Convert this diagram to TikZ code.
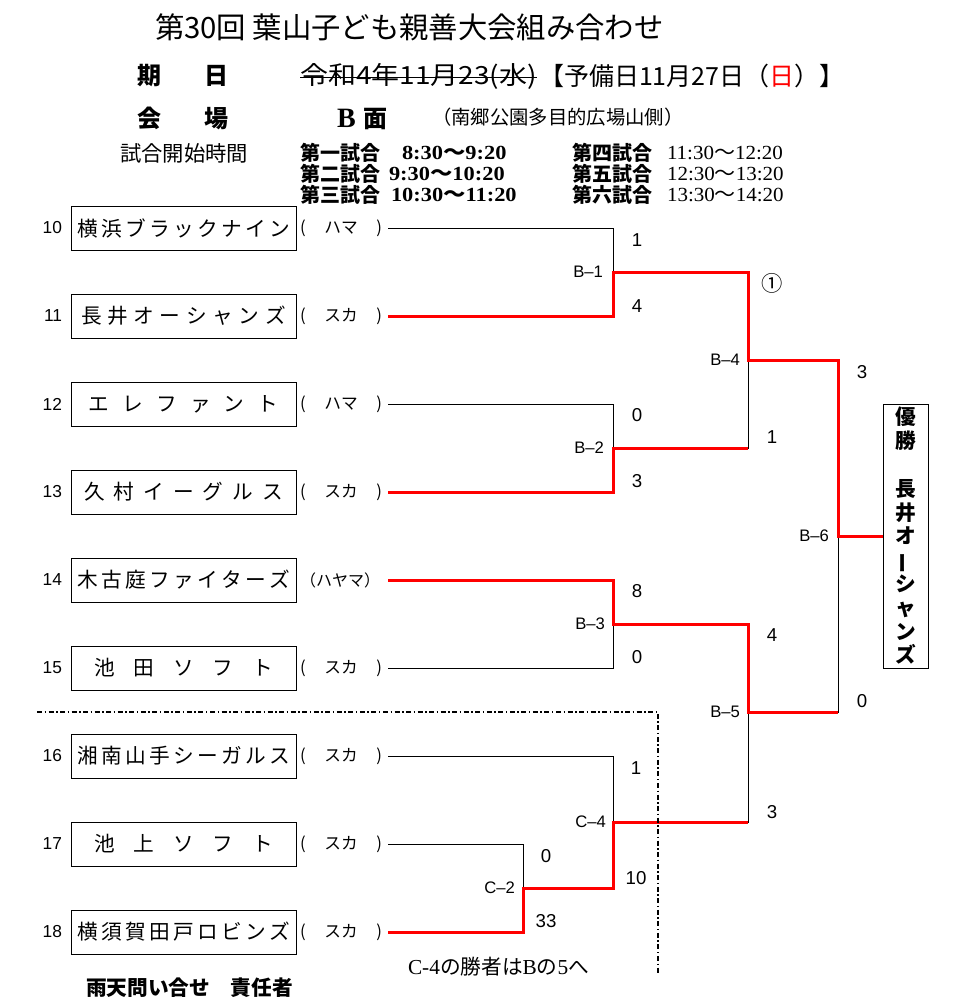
\documentclass[tikz,border=0pt]{standalone}
\usepackage{fontspec}
\usepackage{graphicx}
\setmainfont{Noto Sans CJK JP}
\newfontfamily\arialf{Liberation Sans}
\newfontfamily\serff{Liberation Serif}
\newcommand\myfs[1]{\fontsize{#1}{#1}\selectfont}
\begin{document}
\begin{tikzpicture}[x=0.75pt,y=-0.75pt,
  every node/.style={inner sep=0pt,outer sep=0pt},
  team/.style={draw,line width=0.75pt,minimum width=168.75pt,minimum height=33pt,font=\myfs{15.5pt}},
  numl/.style={anchor=east,font=\arialf\myfs{13pt}},
  kana/.style={font=\myfs{12.5pt}},
  lose/.style={line width=0.75pt},
  win/.style={line width=2.25pt,red},
  score/.style={font=\arialf\myfs{14pt}},
  mlab/.style={anchor=east,font=\arialf\myfs{12.5pt}},
  head/.style={anchor=west},
  sched/.style={anchor=west,font=\bfseries\myfs{15pt}},
  dashdot/.style={line width=1.5pt,dash pattern=on 3.75pt off 1.9pt on 1.1pt off 1.9pt}
]
\fill[white] (0,0) rectangle (974,999);
\useasboundingbox (0,0) rectangle (974,999);

% ---------- header ----------
\node[head,font=\myfs{22pt}] (title) at (155,27) {第30回 葉山子ども親善大会組み合わせ};
\node[head,font=\bfseries\myfs{18pt}] (kijitsu) at (137,76) {\makebox[69pt][s]{期\hfill 日}};
\node[head,font=\myfs{18.75pt}] (strk) at (300,76) {\scalebox{1.12}[1]{令和4年11月23(水)}};
\draw[line width=0.75pt] ([yshift=-1.5pt]strk.west) -- ([yshift=-1.5pt]strk.east);
\node[head,font=\myfs{18.75pt}] (yobi) at (539,76) {【予備日11月27日（\textcolor{red}{日}）】};
\node[head,font=\bfseries\myfs{18pt}] (kaijo) at (137,118.5) {\makebox[69pt][s]{会\hfill 場}};
\node[head] (bmen) at (337,119) {{\serff\bfseries\myfs{21pt}B}\hspace{6pt}{\bfseries\myfs{18pt}面}};
\node[head,font=\myfs{14.5pt}] (nango) at (432,117) {（南郷公園多目的広場山側）};
\node[head,font=\myfs{16pt}] (kaishi) at (120,153) {試合開始時間};

\node[sched] (g1) at (300,153) {第一試合};
\node[sched] (g2) at (300,173.5) {第二試合};
\node[sched] (g3) at (300,195) {第三試合};
\node[anchor=west] (t1) at (402,153) {\scalebox{1.12}[1]{\serff\bfseries\myfs{15pt}8:30\normalfont\bfseries～\serff\bfseries 9:20}};
\node[anchor=west] (t2) at (389,173.5) {\scalebox{1.12}[1]{\serff\bfseries\myfs{15pt}9:30\normalfont\bfseries～\serff\bfseries 10:20}};
\node[anchor=west] (t3) at (391,195) {\scalebox{1.12}[1]{\serff\bfseries\myfs{15pt}10:30\normalfont\bfseries～\serff\bfseries 11:20}};
\node[sched] (g4) at (572,153) {第四試合};
\node[sched] (g5) at (572,173.5) {第五試合};
\node[sched] (g6) at (572,195) {第六試合};
\node[anchor=west] (t4) at (667,153) {\scalebox{1.05}[1]{\serff\myfs{15pt}11:30\normalfont～\serff 12:20}};
\node[anchor=west] (t5) at (667,173.5) {\scalebox{1.05}[1]{\serff\myfs{15pt}12:30\normalfont～\serff 13:20}};
\node[anchor=west] (t6) at (667,195) {\scalebox{1.05}[1]{\serff\myfs{15pt}13:30\normalfont～\serff 14:20}};

% ---------- teams ----------
\node[team] (tm10) at (183.5,228) {\makebox[159.75pt][s]{横\hfill 浜\hfill ブ\hfill ラ\hfill ッ\hfill ク\hfill ナ\hfill イ\hfill ン}};
\node[team] (tm11) at (183.5,316) {\makebox[153.75pt][s]{長\hfill 井\hfill オ\hfill ー\hfill シ\hfill ャ\hfill ン\hfill ズ}};
\node[team] (tm12) at (183.5,404) {\makebox[142.5pt][s]{エ\hfill レ\hfill フ\hfill ァ\hfill ン\hfill ト}};
\node[team] (tm13) at (183.5,492) {\makebox[149.25pt][s]{久\hfill 村\hfill イ\hfill ー\hfill グ\hfill ル\hfill ス}};
\node[team] (tm14) at (183.5,580) {\makebox[159.75pt][s]{木\hfill 古\hfill 庭\hfill フ\hfill ァ\hfill イ\hfill タ\hfill ー\hfill ズ}};
\node[team] (tm15) at (183.5,668) {\makebox[134.25pt][s]{池\hfill 田\hfill ソ\hfill フ\hfill ト}};
\node[team] (tm16) at (183.5,756) {\makebox[159.75pt][s]{湘\hfill 南\hfill 山\hfill 手\hfill シ\hfill ー\hfill ガ\hfill ル\hfill ス}};
\node[team] (tm17) at (183.5,844) {\makebox[134.25pt][s]{池\hfill 上\hfill ソ\hfill フ\hfill ト}};
\node[team] (tm18) at (183.5,932) {\makebox[159.75pt][s]{横\hfill 須\hfill 賀\hfill 田\hfill 戸\hfill ロ\hfill ビ\hfill ン\hfill ズ}};

\node[numl] (n10) at (62,228) {10};
\node[numl] (n11) at (62,316) {11};
\node[numl] (n12) at (62,404) {12};
\node[numl] (n13) at (62,492) {13};
\node[numl] (n14) at (62,580) {14};
\node[numl] (n15) at (62,668) {15};
\node[numl] (n16) at (62,756) {16};
\node[numl] (n17) at (62,844) {17};
\node[numl] (n18) at (62,932) {18};

\node[kana] (k10) at (341,228) {\makebox[61.5pt][s]{(\hfill ハマ\hfill )}};
\node[kana] (k11) at (341,316) {\makebox[61.5pt][s]{(\hfill スカ\hfill )}};
\node[kana] (k12) at (341,404) {\makebox[61.5pt][s]{(\hfill ハマ\hfill )}};
\node[kana] (k13) at (341,492) {\makebox[61.5pt][s]{(\hfill スカ\hfill )}};
\node[kana,font=\myfs{12pt}] (k14) at (340,580) {（ハヤマ）};
\node[kana] (k15) at (341,668) {\makebox[61.5pt][s]{(\hfill スカ\hfill )}};
\node[kana] (k16) at (341,756) {\makebox[61.5pt][s]{(\hfill スカ\hfill )}};
\node[kana] (k17) at (341,844) {\makebox[61.5pt][s]{(\hfill スカ\hfill )}};
\node[kana] (k18) at (341,932) {\makebox[61.5pt][s]{(\hfill スカ\hfill )}};

% line starts
\coordinate (s10) at (388,228);
\coordinate (s11) at (388,316);
\coordinate (s12) at (388,404);
\coordinate (s13) at (388,492);
\coordinate (s14) at (388,580);
\coordinate (s15) at (388,668);
\coordinate (s16) at (388,756);
\coordinate (s17) at (388,844);
\coordinate (s18) at (388,932);
% junctions
\coordinate (b1) at (613,272);
\coordinate (b2) at (613,448);
\coordinate (b3) at (613,624);
\coordinate (c4) at (613,822);
\coordinate (c2) at (523,888);
\coordinate (b4) at (748,360);
\coordinate (b5) at (748,712);
\coordinate (b6) at (838,536);

% champion
\node[draw,line width=0.75pt,minimum width=33.75pt,minimum height=198pt,align=center,
      font=\bfseries\fontsize{15.5pt}{17.85pt}\selectfont] (champ) at (905.5,536)
  {優\\勝\\[17.85pt]長\\井\\オ\\\rotatebox[origin=c]{90}{ー}\\シ\\ャ\\ン\\ズ};

% ---------- bracket: losing (black) ----------
\draw[lose] (s10) -| (b1);
\draw[lose] (s12) -| (b2);
\draw[lose] (b2) -| (b4);
\draw[lose] (s15) -| (b3);
\draw[lose] (b5) -| (b6);
\draw[lose] (s16) -| (c4);
\draw[lose] (c4) -| (b5);
\draw[lose] (s17) -| (c2);
% ---------- bracket: winners (red) ----------
\draw[win] (s11) -| (b1) -| (b4) -| (b6) -- (champ.west);
\draw[win] (s13) -| (b2) -- (b2 -| b4);
\draw[win] (s14) -| (b3) -| (b5) -- (b5 -| b6);
\draw[win] (s18) -| (c2) -| (c4) -- (c4 -| b5);

% match labels
\node[mlab] (lb1) at (603,272) {B–1};
\node[mlab] (lb2) at (604,448) {B–2};
\node[mlab] (lb3) at (605,624) {B–3};
\node[mlab] (lb4) at (740,360) {B–4};
\node[mlab] (lb5) at (740,712) {B–5};
\node[mlab] (lb6) at (829,536) {B–6};
\node[mlab] (lc4) at (606,822) {C–4};
\node[mlab] (lc2) at (515,888) {C–2};

% scores
\node[score] (sc1) at (637,240) {1};
\node[score] (sc2) at (637,306.5) {4};
\node[font=\myfs{16pt}] (sc3) at (772,283) {①};
\node[score] (sc4) at (862,372.5) {3};
\node[score] (sc5) at (637,415.5) {0};
\node[score] (sc6) at (772,437.5) {1};
\node[score] (sc7) at (637,481.5) {3};
\node[score] (sc8) at (637,591.5) {8};
\node[score] (sc9) at (637,657) {0};
\node[score] (sc10) at (772,635.5) {4};
\node[score] (sc11) at (862,701.5) {0};
\node[score] (sc12) at (636,768) {1};
\node[score] (sc13) at (772,812) {3};
\node[score] (sc14) at (546,856) {0};
\node[score] (sc15) at (636,878) {10};
\node[score] (sc16) at (546,921) {33};

% dash-dot separator
\coordinate (dd1) at (37,712);
\coordinate (dd2) at (658,712);
\coordinate (dd3) at (658,975);
\draw[dashdot] (dd1) -- (dd2) -- (dd3);

% bottom notes
\node[anchor=west,font=\myfs{15.5pt}] (note) at (408,967) {{\serff\myfs{16pt}C-4}の勝者は{\serff\myfs{16pt}B}の{\serff\myfs{16pt}5}へ};
\node[anchor=west,font=\bfseries\myfs{15.5pt}] (rain) at (86,988) {雨天問い合せ\hspace{1em}責任者};
\end{tikzpicture}
\end{document}
